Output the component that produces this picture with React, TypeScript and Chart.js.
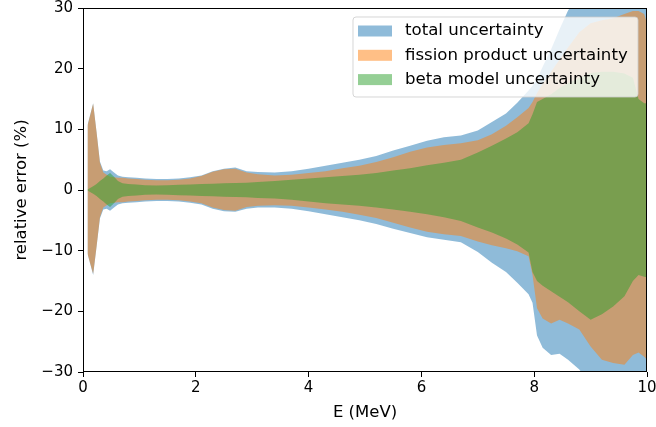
import React, { useEffect, useRef } from "react";
import { Chart, registerables } from "chart.js";

Chart.register(...registerables);

// Energy grid (MeV)
const energy = [
  0.08, 0.18, 0.24, 0.3, 0.36, 0.42, 0.48, 0.55, 0.62, 0.7,
  0.8, 0.95, 1.1, 1.3, 1.5, 1.7, 1.9, 2.1, 2.3, 2.5,
  2.7, 2.9, 3.1, 3.4, 3.7, 4.0, 4.3, 4.6, 4.9, 5.2,
  5.5, 5.8, 6.1, 6.4, 6.7, 7.0, 7.25, 7.5, 7.7, 7.9,
  7.97, 8.05, 8.15, 8.3, 8.45, 8.6, 8.8, 9.0, 9.2, 9.4,
  9.6, 9.75, 9.85, 9.95, 10.0,
];

// total uncertainty (%)
const totalUpper = [
  10.7, 14.3, 9.6, 4.7, 3.2, 3.1, 3.4, 2.9, 2.4, 2.2,
  2.1, 2.0, 1.9, 1.8, 1.8, 1.9, 2.1, 2.4, 3.1, 3.5,
  3.7, 3.1, 2.95, 2.9, 3.1, 3.5, 4.0, 4.5, 5.0, 5.6,
  6.5, 7.3, 8.1, 8.7, 9.0, 9.8, 11.2, 12.6, 14.4, 16.4,
  17.2, 18.3, 20.3, 23.2, 26.5, 29.6, 32, 33, 33, 33,
  33, 33, 33, 33, 33,
];
const totalLower = [
  -10.5, -14.0, -9.4, -4.7, -3.2, -3.1, -3.4, -2.9, -2.4, -2.2,
  -2.1, -2.0, -1.9, -1.8, -1.8, -1.9, -2.1, -2.4, -3.1, -3.5,
  -3.6, -3.1, -2.9, -2.9, -3.1, -3.5, -4.0, -4.5, -5.0, -5.6,
  -6.4, -7.1, -7.8, -8.2, -8.6, -10.2, -12.0, -13.5, -15.3, -17.2,
  -18.6, -24.0, -26.0, -27.2, -27.0, -28.0, -29.6, -32, -33, -33,
  -33, -33, -33, -33, -33,
];

// fission product uncertainty (%)
const fissionUpper = [
  10.6, 14.2, 9.5, 4.5, 2.9, 2.5, 2.2, 2.1, 2.0, 2.0,
  1.9, 1.8, 1.7, 1.6, 1.6, 1.7, 1.9, 2.3, 3.0, 3.4,
  3.5, 2.9, 2.6, 2.4, 2.5, 2.8, 3.1, 3.6, 4.0, 4.6,
  5.4, 6.3, 7.0, 7.4, 7.7, 8.2, 9.2, 10.6, 12.0, 13.5,
  14.5, 16.0, 17.5, 19.5, 21.5, 23.5, 26.0, 27.5, 28.0, 28.3,
  29.0, 29.5, 29.5, 29.0, 27.5,
];
const fissionLower = [
  -10.5, -13.8, -9.3, -4.5, -2.9, -2.5, -2.2, -2.1, -2.0, -2.0,
  -1.9, -1.8, -1.7, -1.6, -1.6, -1.7, -1.9, -2.2, -2.9, -3.3,
  -3.4, -2.8, -2.6, -2.5, -2.6, -2.9, -3.2, -3.6, -4.1, -4.6,
  -5.4, -6.2, -6.9, -7.3, -7.6, -8.5, -9.1, -9.6, -10.1, -10.9,
  -14.0, -19.5, -21.2, -22.0, -21.4, -22.0, -23.0, -25.8, -28.0, -28.5,
  -28.8, -27.2, -26.8, -27.5, -28.0,
];

// beta model uncertainty (%)
const betaUpper = [
  0.1, 0.6, 1.0, 1.5, 1.9, 2.4, 2.8, 2.2, 1.5, 1.1,
  1.0, 0.9, 0.8, 0.75, 0.8, 0.85, 0.9, 1.0, 1.05, 1.1,
  1.15, 1.2, 1.3, 1.5, 1.7, 1.9, 2.1, 2.3, 2.5, 2.8,
  3.2, 3.6, 4.1, 4.5, 5.0, 6.2, 7.3, 8.5, 9.5, 11.0,
  12.5, 14.5, 15.0, 15.8, 16.8, 17.6, 18.5, 19.3, 19.5, 19.5,
  19.2, 18.5, 15.0, 14.3, 14.3,
];
const betaLower = [
  -0.1, -0.6, -1.0, -1.5, -1.9, -2.4, -2.8, -2.2, -1.5, -1.1,
  -1.0, -0.9, -0.8, -0.75, -0.8, -0.85, -0.9, -1.0, -1.05, -1.1,
  -1.15, -1.2, -1.3, -1.4, -1.6, -1.9, -2.2, -2.4, -2.6, -2.9,
  -3.2, -3.6, -4.0, -4.5, -5.1, -6.2, -7.0, -8.0, -9.0, -10.3,
  -13.5, -15.0, -15.8, -16.7, -17.6, -18.5, -20.0, -21.4, -20.5, -19.2,
  -17.5, -15.0, -14.0, -14.3, -14.4,
];

const seriesLabels = ["total uncertainty", "fission product uncertainty", "beta model uncertainty"];
const seriesColors = ["rgba(31,119,180,0.5)", "rgba(255,127,14,0.5)", "rgba(44,160,44,0.5)"];
const xLimits = [0, 10];
const yLimits = [-30, 30];
const xTitle = "E (MeV)";
const yTitle = "relative error (%)";

const FONT = "'DejaVu Sans', sans-serif";

const toPoints = (ys: number[]) => energy.map((x, i) => ({ x, y: ys[i] }));

const framePlugin = {
  id: "frame",
  afterDatasetsDraw(chart: any) {
    const { ctx, chartArea } = chart;
    ctx.save();
    ctx.strokeStyle = "#000";
    ctx.lineWidth = 1;
    const l = Math.round(chartArea.left) + 0.5;
    const t = Math.round(chartArea.top) + 0.5;
    const r = Math.round(chartArea.right) - 0.5;
    const b = Math.round(chartArea.bottom) - 0.5;
    ctx.strokeRect(l, t, r - l, b - t);
    ctx.restore();
  },
};

const legendPlugin = {
  id: "mplLegend",
  afterDraw(chart: any) {
    const { ctx, chartArea } = chart;
    const w = 285;
    const h = 80;
    const x = chartArea.right - 9 - w;
    const y = chartArea.top + 9;
    ctx.save();
    ctx.beginPath();
    const r = 3;
    ctx.moveTo(x + r, y);
    ctx.lineTo(x + w - r, y);
    ctx.quadraticCurveTo(x + w, y, x + w, y + r);
    ctx.lineTo(x + w, y + h - r);
    ctx.quadraticCurveTo(x + w, y + h, x + w - r, y + h);
    ctx.lineTo(x + r, y + h);
    ctx.quadraticCurveTo(x, y + h, x, y + h - r);
    ctx.lineTo(x, y + r);
    ctx.quadraticCurveTo(x, y, x + r, y);
    ctx.closePath();
    ctx.fillStyle = "rgba(255,255,255,0.8)";
    ctx.fill();
    ctx.strokeStyle = "rgba(204,204,204,0.8)";
    ctx.lineWidth = 1;
    ctx.stroke();
    ctx.font = `16.6px ${FONT}`;
    ctx.textBaseline = "middle";
    ctx.textAlign = "left";
    seriesLabels.forEach((label, i) => {
      const cy = y + 14 + i * 24.3;
      ctx.fillStyle = seriesColors[i];
      ctx.fillRect(x + 5, cy - 5.5, 34, 11);
      ctx.fillStyle = "#000";
      ctx.fillText(label, x + 52, cy);
    });
    ctx.restore();
  },
};

export default function App() {
  const ref = useRef<HTMLCanvasElement | null>(null);

  useEffect(() => {
    if (!ref.current) return;
    const bands = [
      [totalUpper, totalLower],
      [fissionUpper, fissionLower],
      [betaUpper, betaLower],
    ];
    const datasets: any[] = [];
    bands.forEach(([up, lo], i) => {
      const order = 3 - i;
      datasets.push({
        label: seriesLabels[i] + " upper",
        data: toPoints(up),
        borderWidth: 0,
        borderColor: "rgba(0,0,0,0)",
        backgroundColor: seriesColors[i],
        pointRadius: 0,
        fill: false,
        order,
      });
      datasets.push({
        label: seriesLabels[i],
        data: toPoints(lo),
        borderWidth: 0,
        borderColor: "rgba(0,0,0,0)",
        backgroundColor: seriesColors[i],
        pointRadius: 0,
        fill: "-1",
        order,
      });
    });

    const chart = new Chart(ref.current, {
      type: "line",
      data: { datasets },
      options: {
        animation: false,
        responsive: false,
        devicePixelRatio: 1,
        layout: { padding: { top: 8, right: 9, left: 0, bottom: 0 } },
        plugins: {
          legend: { display: false },
          tooltip: { enabled: false },
          filler: { propagate: false },
        },
        elements: { line: { tension: 0 } },
        scales: {
          x: {
            type: "linear",
            min: xLimits[0],
            max: xLimits[1],
            ticks: {
              stepSize: 2,
              color: "#000",
              font: { family: FONT, size: 15 },
              padding: 2,
            },
            grid: { drawOnChartArea: false, drawTicks: true, tickLength: 5, color: "#000" },
            border: { display: false },
            title: {
              display: true,
              text: xTitle,
              color: "#000",
              font: { family: FONT, size: 16.5 },
              padding: { top: 0, bottom: 4 },
            },
            afterFit: (s: any) => {
              s.height = 55;
              s.paddingLeft = 0;
              s.paddingRight = 0;
            },
          },
          y: {
            type: "linear",
            min: yLimits[0],
            max: yLimits[1],
            ticks: {
              stepSize: 10,
              color: "#000",
              font: { family: FONT, size: 15 },
              padding: 5,
              callback: (v: any) => String(v).replace("-", "\u2212"),
            },
            grid: { drawOnChartArea: false, drawTicks: true, tickLength: 5, color: "#000" },
            border: { display: false },
            title: {
              display: true,
              text: yTitle,
              color: "#000",
              font: { family: FONT, size: 16.5 },
              padding: { top: 12, bottom: 0 },
            },
            afterFit: (s: any) => {
              s.width = 83;
              s.paddingTop = 0;
              s.paddingBottom = 0;
            },
          },
        },
      },
      plugins: [framePlugin, legendPlugin],
    });
    return () => chart.destroy();
  }, []);

  return (
    <div style={{ position: "absolute", left: 0, top: 0, width: 656, height: 427, background: "#fff" }}>
      <canvas ref={ref} width={656} height={427} style={{ width: 656, height: 427 }} />
    </div>
  );
}
